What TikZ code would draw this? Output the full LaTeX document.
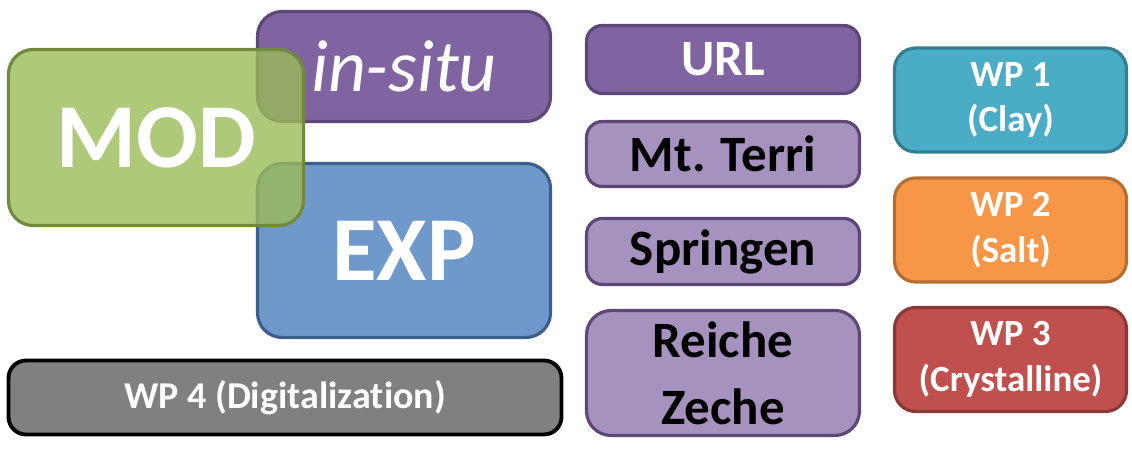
\documentclass[tikz,border=0pt]{standalone}
\usepackage{fontspec}
\setmainfont{Carlito}[Ligatures=NoCommon]
\usepackage{xcolor}
\definecolor{purp}{HTML}{8064A2}
\definecolor{purpline}{HTML}{5C4776}
\definecolor{lpurp}{HTML}{A592BE}
\definecolor{grn}{HTML}{9BBB59}
\definecolor{grnline}{HTML}{71893F}
\definecolor{blu}{HTML}{7099CB}
\definecolor{bluline}{HTML}{3C5E8C}
\definecolor{wpone}{HTML}{4BACC6}
\definecolor{wponeline}{HTML}{357D91}
\definecolor{wptwo}{HTML}{F79646}
\definecolor{wptwoline}{HTML}{B66D31}
\definecolor{wpthree}{HTML}{C0504D}
\definecolor{wpthreeline}{HTML}{8C3836}
\tikzset{
  box/.style={rectangle, rounded corners=7pt, line width=0.9pt, inner sep=0pt, align=center, font=\bfseries},
  bigbox/.style={box, minimum width=2.93cm, text=white, font=\bfseries\fontsize{26}{28}\selectfont},
  site/.style={box, rounded corners=4.5pt, minimum width=2.73cm, fill=lpurp, draw=purpline, font=\bfseries\fontsize{14.5}{19}\selectfont},
  wpbox/.style={box, rounded corners=6pt, minimum width=2.32cm, minimum height=1.04cm, text=white, font=\bfseries\fontsize{10.5}{13}\selectfont}
}
\begin{document}
\begin{tikzpicture}
    \useasboundingbox (0,0) rectangle (11.32,4.63);
    %in-situ and EXP
    \node (insitu) at (4.04,3.965) [bigbox, minimum height=1.10cm, fill=purp, draw=purpline, font=\itshape\fontsize{21}{24}\selectfont] {in-situ};
    \node (exp) at (4.04,2.125) [bigbox, minimum height=1.74cm, fill=blu, draw=bluline] {EXP};
    %MOD
    \node (mod) at (1.56,3.255) [bigbox, minimum width=2.95cm, minimum height=1.76cm, fill=grn, fill opacity=0.8, text opacity=1, draw=grnline] {MOD};
    %Digitalization
    \node (wpfour) at (2.85,0.655) [box, rounded corners=5pt, line width=1.1pt, minimum width=5.53cm, minimum height=0.74cm, fill=black!50, draw=black, text=white, font=\bfseries\fontsize{10.8}{13}\selectfont] {WP 4 (Digitalization)};
    %Sites
    \node (url) at (7.23,4.035) [site, minimum height=0.68cm, fill=purp, text=white] {URL};
    \node (terri) at (7.23,3.09) [site, minimum height=0.65cm] {Mt. Terri};
    \node (springen) at (7.23,2.115) [site, minimum height=0.66cm] {Springen};
    \node (reiche) at (7.23,0.90) [site, rounded corners=7pt, minimum height=1.25cm] {Reiche\\Zeche};
    %Work packages
    \node (wpone) at (10.105,3.63) [wpbox, fill=wpone, draw=wponeline] {WP 1\\(Clay)};
    \node (wptwo) at (10.105,2.33) [wpbox, fill=wptwo, draw=wptwoline] {WP 2\\(Salt)};
    \node (wpthree) at (10.105,1.035) [wpbox, fill=wpthree, draw=wpthreeline] {WP 3\\(Crystalline)};
\end{tikzpicture}
\end{document}
